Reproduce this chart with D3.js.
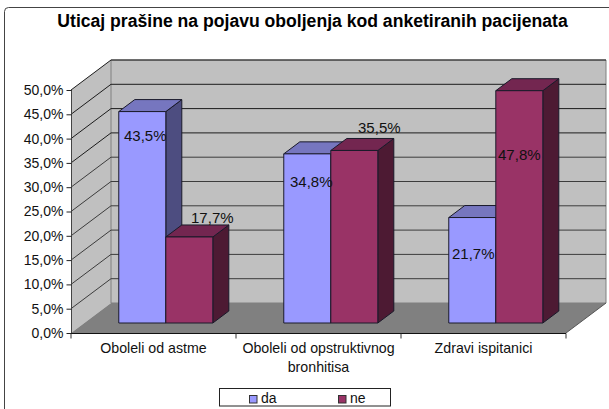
<!DOCTYPE html>
<html><head><meta charset="utf-8">
<script src="https://cdn.jsdelivr.net/npm/d3@7"></script>
<style>html,body{margin:0;padding:0;background:#fff}svg{display:block}text{font-family:"Liberation Sans",Arial,sans-serif;fill:#111}</style>
</head><body><div id="c"></div>
<script>
const title = "Uticaj prašine na pojavu oboljenja kod anketiranih pacijenata";
const categories = ["Oboleli od astme", "Oboleli od opstruktivnog bronhitisa", "Zdravi ispitanici"];
const categoryLines = [["Oboleli od astme"], ["Oboleli od opstruktivnog", "bronhitisa"], ["Zdravi ispitanici"]];
const seriesNames = ["da", "ne"];
const da = [43.5, 34.8, 21.7];
const ne = [17.7, 35.5, 47.8];
const tickValues = [0, 5, 10, 15, 20, 25, 30, 35, 40, 45, 50];

const W = 609, H = 409;
const fmt = v => v.toFixed(1).replace(".", ",") + "%";
const svg = d3.select("#c").append("svg").attr("width", W).attr("height", H);

// frame (runs off the right and bottom of the picture)
svg.append("rect").attr("x", 4.5).attr("y", 7.5).attr("width", 640).attr("height", 440).attr("rx", 4)
  .attr("fill", "#fff").attr("stroke", "#444").attr("stroke-width", 1);

svg.append("text").attr("x", 312.5).attr("y", 27).attr("text-anchor", "middle")
  .attr("font-size", 17.6).attr("font-weight", "bold").style("fill", "#000").text(title);

// 3D box
const x = d3.scaleBand().domain(categories).range([71, 566]);
const y = d3.scaleLinear().domain([0, 50]).range([333, 90]);
const depthX = 40, depthY = -30;
const x0 = 71, x1 = 566;
const g = svg.append("g");
const pts = a => a.map(p => p.join(",")).join(" ");

// left wall
g.append("polygon").attr("points", pts([[x0, y(0)], [x0, y(50)], [x0 + depthX, y(50) + depthY], [x0 + depthX, y(0) + depthY]]))
  .attr("fill", "#c0c0c0");
// back wall
g.append("polygon").attr("points", pts([[x0 + depthX, y(50) + depthY], [x1 + depthX, y(50) + depthY], [x1 + depthX, y(0) + depthY], [x0 + depthX, y(0) + depthY]]))
  .attr("fill", "#c0c0c0").attr("stroke", "#808080");
// floor
g.append("polygon").attr("points", pts([[x0, y(0)], [x1, y(0)], [x1 + depthX, y(0) + depthY], [x0 + depthX, y(0) + depthY]]))
  .attr("fill", "#808080");

// gridlines
tickValues.filter(t => t > 0).forEach(t => {
  g.append("polyline").attr("fill", "none").attr("stroke", t >= 35 ? "#1c1c1c" : "#3c3c3c").attr("stroke-width", 1)
    .attr("points", pts([[x0, y(t)], [x0 + depthX, y(t) + depthY], [x1 + depthX, y(t) + depthY]]));
});

// bars
const barShift = {x: 12.3, y: -10};
const bd = {x: 16, y: -12};
const group = d3.scaleBand().domain(categories).range([x0 + barShift.x, x1 + barShift.x]).paddingInner(0.43).paddingOuter(0.215);
const sub = d3.scaleBand().domain(seriesNames).range([0, group.bandwidth()]);
const colors = {
  da: {front: "#9999ff", top: "#7676bf", side: "#4d4d80"},
  ne: {front: "#993366", top: "#732650", side: "#4d1a33"}
};
const values = {da, ne};
const labelOffsets = {da: [[3, 29], [4, 33], [1, 41]], ne: [[23, -14], [25, -17], [0, 69]]};
const labels = [];
categories.forEach((c, i) => {
  seriesNames.forEach(s => {
    const v = values[s][i];
    const l = group(c) + sub(s), r = l + sub.bandwidth();
    const t = y(v) + barShift.y, b = y(0) + barShift.y;
    const col = colors[s];
    const st = {stroke: "#1a1a2a", "stroke-width": 1, "stroke-linejoin": "round"};
    const poly = (p, f) => { const e = g.append("polygon").attr("points", pts(p)).attr("fill", f); Object.entries(st).forEach(([k, a]) => e.attr(k, a)); };
    poly([[r, b], [r, t], [r + bd.x, t + bd.y], [r + bd.x, b + bd.y]], col.side);
    poly([[l, t], [l + bd.x, t + bd.y], [r + bd.x, t + bd.y], [r, t]], col.top);
    poly([[l, t], [r, t], [r, b], [l, b]], col.front);
    const o = labelOffsets[s][i];
    labels.push({x: (l + r) / 2 + o[0], y: t + o[1], text: fmt(v)});
  });
});
g.selectAll("text.lab").data(labels).join("text").attr("class", "lab")
  .attr("x", d => d.x).attr("y", d => d.y).attr("text-anchor", "middle").attr("font-size", 15).text(d => d.text);

// axes
const yAxis = d3.axisLeft(y).tickValues(tickValues).tickFormat(fmt).tickSize(5).tickPadding(3);
const ya = svg.append("g").attr("transform", `translate(${x0 + 0.5},0)`).call(yAxis);
ya.select(".domain").attr("stroke", "#444").attr("d", `M0,${y(0)}V${y(50)}`);
ya.selectAll("line").attr("stroke", "#222");
ya.selectAll("text").attr("font-size", 14).attr("font-family", '"Liberation Sans",Arial,sans-serif');

const xa = svg.append("g").attr("transform", `translate(0,${y(0) + 0.5})`).call(
  d3.axisBottom(x).tickFormat("").tickSize(0));
xa.select(".domain").attr("stroke", "#111").attr("d", `M${x0},0H${x1}`);
xa.selectAll(".tick").remove();
const edges = categories.map(c => x(c)).concat([x1]);
xa.selectAll("line.edge").data(edges).join("line").attr("class", "edge")
  .attr("x1", d => d).attr("x2", d => d).attr("y1", 0).attr("y2", 5).attr("stroke", "#333");
// floor right edge
svg.append("line").attr("x1", x1).attr("y1", y(0)).attr("x2", x1 + depthX).attr("y2", y(0) + depthY).attr("stroke", "#555");

categories.forEach((c, i) => {
  const cx = x(c) + x.bandwidth() / 2;
  const t = svg.append("text").attr("text-anchor", "middle").attr("font-size", 14.2);
  categoryLines[i].forEach((ln, j) => t.append("tspan").attr("x", cx).attr("y", 353 + j * 19).text(ln));
});

// legend
svg.append("rect").attr("x", 219.5).attr("y", 388.5).attr("width", 171).attr("height", 17.5).attr("fill", "#fff").attr("stroke", "#222");
const legendX = d3.scalePoint().domain(seriesNames).range([249, 338]);
seriesNames.forEach(s => {
  svg.append("rect").attr("x", legendX(s) + 0.5).attr("y", 395.5).attr("width", 7.5).attr("height", 7.5)
    .attr("fill", colors[s].front).attr("stroke", "#333");
  svg.append("text").attr("x", legendX(s) + 12).attr("y", 403).attr("font-size", 14).text(s);
});
</script></body></html>
